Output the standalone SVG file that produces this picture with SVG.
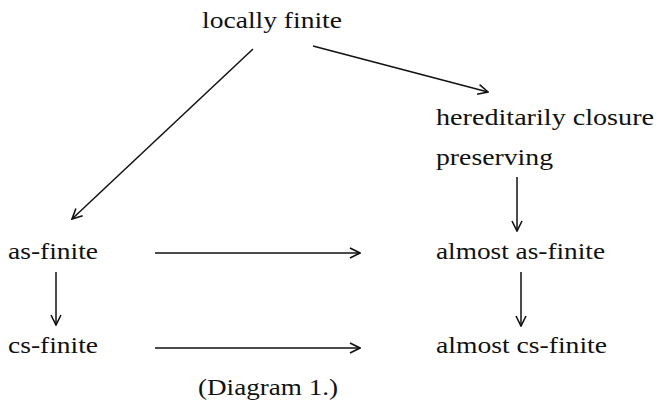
<svg xmlns="http://www.w3.org/2000/svg" width="657" height="407" viewBox="0 0 657 407">
<style>
text{font-family:"Liberation Serif","DejaVu Serif",serif;font-size:24px;fill:#111;}
.c line{stroke:#111;stroke-width:1.5;fill:none;marker-end:url(#ah);}
</style>
<defs>
<marker id="ah" viewBox="0 0 12 12" refX="11" refY="6" markerWidth="12" markerHeight="12" markerUnits="userSpaceOnUse" orient="auto">
<path d="M1,1 L11,6 L1,11" fill="none" stroke="#111" stroke-width="1.6"/>
</marker>
</defs>
<rect width="657" height="407" fill="#fff"/>
<g id="n-locally"><text x="202" y="28" textLength="140" lengthAdjust="spacingAndGlyphs">locally finite</text></g>
<g id="n-hered"><text x="436" y="125" textLength="218" lengthAdjust="spacingAndGlyphs">hereditarily closure</text><text x="436" y="165" textLength="117" lengthAdjust="spacingAndGlyphs">preserving</text></g>
<g id="n-as"><text x="8" y="259" textLength="90" lengthAdjust="spacingAndGlyphs">as-finite</text></g>
<g id="n-cs"><text x="8" y="353" textLength="90" lengthAdjust="spacingAndGlyphs">cs-finite</text></g>
<g id="n-almost-as"><text x="436" y="259" textLength="169" lengthAdjust="spacingAndGlyphs">almost as-finite</text></g>
<g id="n-almost-cs"><text x="436" y="353" textLength="171" lengthAdjust="spacingAndGlyphs">almost cs-finite</text></g>
<g id="caption"><text x="198" y="395" textLength="140" lengthAdjust="spacingAndGlyphs">(Diagram 1.)</text></g>
<g id="connectors" class="c">
<line x1="253" y1="49" x2="72" y2="219"/>
<line x1="313" y1="46" x2="488" y2="92"/>
<line x1="517" y1="177" x2="517" y2="231"/>
<line x1="521" y1="272" x2="521" y2="326"/>
<line x1="56" y1="272" x2="56" y2="325"/>
<line x1="155" y1="253" x2="360" y2="253"/>
<line x1="155" y1="348" x2="360" y2="348"/>
</g>
</svg>
